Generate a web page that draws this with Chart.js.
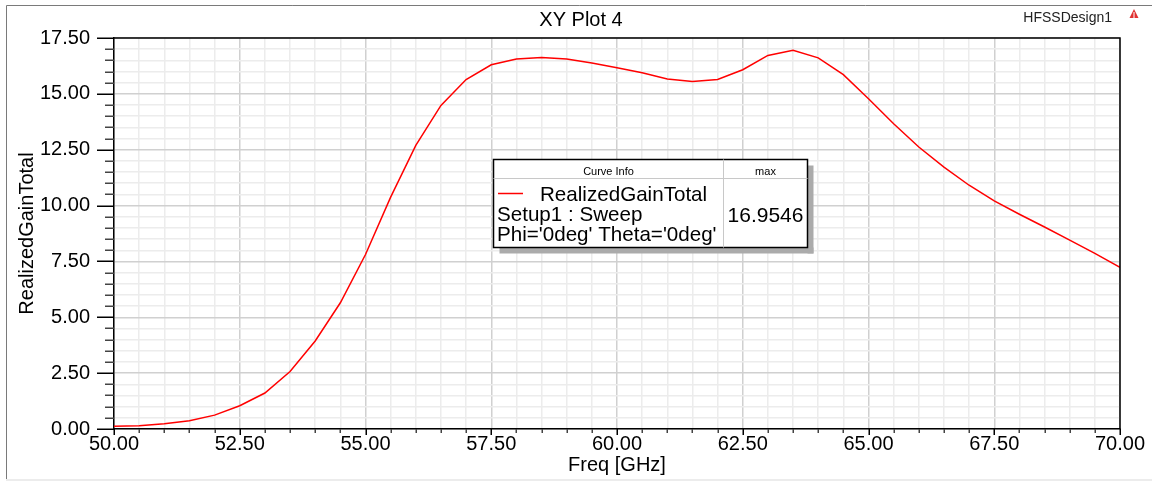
<!DOCTYPE html>
<html>
<head>
<meta charset="utf-8">
<title>XY Plot 4</title>
<script src="https://cdn.jsdelivr.net/npm/chart.js@4.4.1/dist/chart.umd.min.js"></script>
<style>
  html, body { margin: 0; padding: 0; background: #fff; }
  canvas { display: block; }
</style>
</head>
<body>
<canvas id="graficaGanancia" width="1152" height="483"></canvas>
<script>
"use strict";

const freqs = [50, 50.5, 51, 51.5, 52, 52.5, 53, 53.5, 54, 54.5, 55, 55.5, 56, 56.5, 57, 57.5,
    58, 58.5, 59, 59.5, 60, 60.5, 61, 61.5, 62, 62.5, 63, 63.5, 64, 64.5, 65, 65.5, 66, 66.5,
    67, 67.5, 68, 68.5, 69, 69.5, 70];
const gain = [0.12, 0.15, 0.24, 0.37, 0.62, 1.04, 1.61, 2.57, 3.94, 5.65, 7.81, 10.38, 12.69, 14.48,
    15.64, 16.30, 16.56, 16.63, 16.56, 16.38, 16.17, 15.94, 15.67, 15.55, 15.64, 16.08, 16.72,
    16.9546, 16.61, 15.86, 14.78, 13.66, 12.62, 11.72, 10.91, 10.21, 9.61, 9.04, 8.45, 7.86, 7.23];
const xRange = [50, 70];
const yRange = [0, 17.5];
const majorStep = 2.5;
const minorStep = 0.5;

const plotTitle = 'XY Plot 4';
const designName = 'HFSSDesign1';
const xTitle = 'Freq [GHz]';
const yTitle = 'RealizedGainTotal';
const curveName = 'RealizedGainTotal';
const curveInfo = ['Setup1 : Sweep', "Phi='0deg' Theta='0deg'"];
const legendHeaders = ['Curve Info', 'max'];

const FONT = '"Liberation Sans", Arial, sans-serif';

function isMajor(v) {
    return Math.abs(Math.round(v / majorStep) * majorStep - v) < 1e-6;
}

const gridOpts = {
    drawTicks: false,
    color: function (ctx) { return ctx.tick && isMajor(ctx.tick.value) ? '#d0d0d0' : '#ececec'; },
    lineWidth: 1.5
};

const hfssPlugin = {
    id: 'hfss',
    beforeDraw: function (chart) {
        const c = chart.ctx;
        c.save();
        c.fillStyle = '#fff';
        c.fillRect(0, 0, chart.width, chart.height);
        c.restore();
    },
    afterDraw: function (chart) {
        const c = chart.ctx;
        const a = chart.chartArea;
        const xs = chart.scales.x;
        const ys = chart.scales.y;
        c.save();

        // outer frame
        c.strokeStyle = '#7a7a7a';
        c.lineWidth = 1;
        c.beginPath();
        c.moveTo(6.5, 479);
        c.lineTo(6.5, 5.5);
        c.lineTo(chart.width, 5.5);
        c.stroke();
        c.fillStyle = '#ececec';
        c.fillRect(6, 479, chart.width - 6, 2);

        // top and right border of the plot
        c.strokeStyle = '#000';
        c.lineWidth = 1.5;
        c.beginPath();
        c.moveTo(a.left, a.top);
        c.lineTo(a.right, a.top);
        c.lineTo(a.right, a.bottom);
        c.stroke();

        // tick marks
        c.lineWidth = 1.5;
        ys.ticks.forEach(function (t) {
            const py = Math.round(ys.getPixelForValue(t.value)) + 0.25;
            const major = isMajor(t.value);
            c.strokeStyle = major ? '#000' : '#444';
            c.beginPath();
            c.moveTo(a.left - (major ? 17 : 9), py);
            c.lineTo(a.left, py);
            c.stroke();
        });
        xs.ticks.forEach(function (t) {
            const px = Math.round(xs.getPixelForValue(t.value)) + 0.25;
            const major = isMajor(t.value);
            c.strokeStyle = major ? '#000' : '#444';
            c.beginPath();
            c.moveTo(px, a.bottom);
            c.lineTo(px, a.bottom + (major ? 6 : 4));
            c.stroke();
        });

        // titles
        c.fillStyle = '#000';
        c.font = '20px ' + FONT;
        c.textAlign = 'center';
        c.textBaseline = 'alphabetic';
        c.fillText(plotTitle, 581, 26);
        c.font = '14px ' + FONT;
        c.textAlign = 'right';
        c.fillStyle = '#222';
        c.fillText(designName, 1112, 22);

        // small logo
        c.fillStyle = '#e03030';
        c.beginPath();
        c.moveTo(1134, 9);
        c.lineTo(1129.5, 18);
        c.lineTo(1138.5, 18);
        c.closePath();
        c.fill();
        c.strokeStyle = '#fff';
        c.lineWidth = 1;
        c.beginPath();
        c.moveTo(1134, 12);
        c.lineTo(1134, 18);
        c.stroke();

        // curve info box
        const bx = 493.5, by = 159.5, bw = 314, bh = 88, hh = 19, split = 723.5;
        c.fillStyle = '#ababab';
        c.fillRect(bx + bw, by + 6, 6, bh);
        c.fillRect(bx + 6, by + bh, bw, 6);
        c.fillStyle = '#fff';
        c.fillRect(bx, by, bw, bh);
        c.strokeStyle = '#000';
        c.lineWidth = 1.5;
        c.strokeRect(bx, by, bw, bh);
        c.strokeStyle = '#c8c8c8';
        c.lineWidth = 1;
        c.beginPath();
        c.moveTo(bx, by + hh);
        c.lineTo(bx + bw, by + hh);
        c.moveTo(split, by);
        c.lineTo(split, by + bh);
        c.stroke();

        c.fillStyle = '#000';
        c.font = '11px ' + FONT;
        c.textAlign = 'center';
        c.fillText(legendHeaders[0], (bx + split) / 2, by + 15);
        c.fillText(legendHeaders[1], (split + bx + bw) / 2, by + 15);

        c.strokeStyle = chart.data.datasets[0].borderColor;
        c.lineWidth = 1.5;
        c.beginPath();
        c.moveTo(498, 193.5);
        c.lineTo(523, 193.5);
        c.stroke();

        c.font = '20.6px ' + FONT;
        c.textAlign = 'left';
        c.fillText(curveName, 540, 201);
        c.fillText(curveInfo[0], 497, 221);
        c.fillText(curveInfo[1], 497, 241);

        const maxVal = Math.max.apply(null, gain);
        c.font = '21px ' + FONT;
        c.textAlign = 'center';
        c.fillText(maxVal.toFixed(4), (split + bx + bw) / 2, 222);

        c.restore();
    }
};

const puntos = freqs.map(function (f, i) { return { x: f, y: gain[i] }; });

new Chart(document.getElementById('graficaGanancia').getContext('2d'), {
    type: 'line',
    data: {
        datasets: [{
            label: curveName,
            data: puntos,
            borderColor: '#ff0000',
            borderWidth: 1.5,
            pointRadius: 0,
            tension: 0,
            fill: false
        }]
    },
    options: {
        responsive: false,
        animation: false,
        devicePixelRatio: 1,
        layout: { padding: { left: 0, top: 38, right: 32, bottom: 0 } },
        plugins: {
            legend: { display: false },
            title: { display: false },
            tooltip: { enabled: false }
        },
        scales: {
            x: {
                type: 'linear',
                min: xRange[0],
                max: xRange[1],
                afterFit: function (s) { s.height = 54; },
                ticks: {
                    stepSize: minorStep,
                    autoSkip: false,
                    maxRotation: 0,
                    padding: 3,
                    color: '#000',
                    font: { family: FONT, size: 20 },
                    callback: function (v) { return isMajor(v) ? v.toFixed(2) : ''; }
                },
                grid: gridOpts,
                border: { display: true, color: '#000', width: 1.5 },
                title: {
                    display: true,
                    text: xTitle,
                    color: '#000',
                    font: { family: FONT, size: 20 },
                    padding: { top: 0, bottom: 6 }
                }
            },
            y: {
                type: 'linear',
                min: yRange[0],
                max: yRange[1],
                afterFit: function (s) { s.width = 114; },
                ticks: {
                    stepSize: minorStep,
                    autoSkip: false,
                    padding: 24,
                    color: '#000',
                    font: { family: FONT, size: 20 },
                    callback: function (v) { return isMajor(v) ? v.toFixed(2) : ''; }
                },
                grid: gridOpts,
                border: { display: true, color: '#000', width: 1.5 },
                title: {
                    display: true,
                    text: yTitle,
                    color: '#000',
                    font: { family: FONT, size: 20 },
                    padding: { top: 15, bottom: 0 }
                }
            }
        }
    },
    plugins: [hfssPlugin]
});
</script>
</body>
</html>
